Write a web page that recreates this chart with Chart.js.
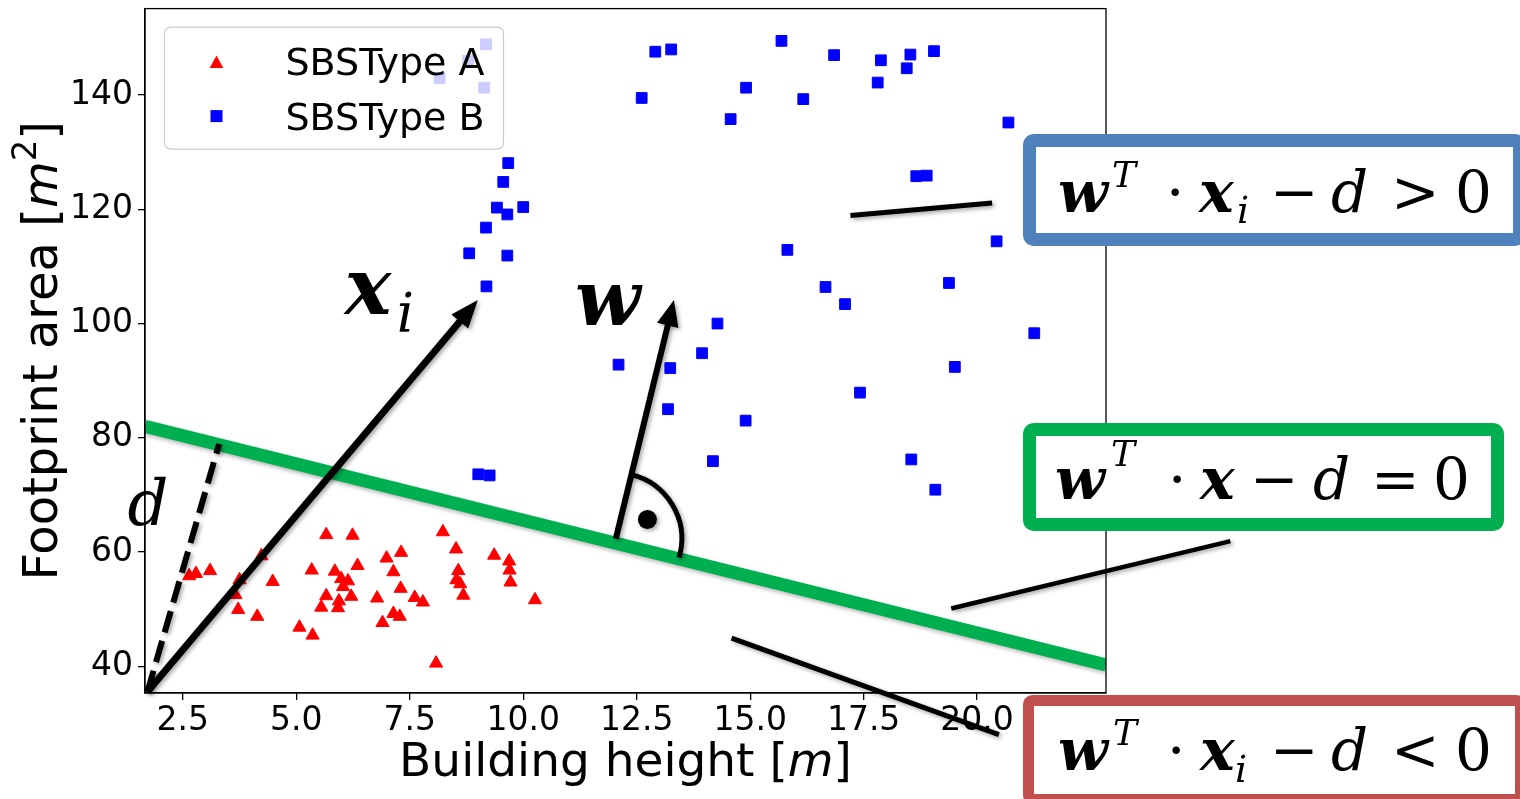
<!DOCTYPE html>
<html>
<head>
<meta charset="utf-8">
<script src="https://cdn.jsdelivr.net/npm/chart.js@4.4.0/dist/chart.umd.min.js"></script>
<style>
  html, body { margin: 0; padding: 0; background: #fff; }
  #wrap { position: relative; width: 1520px; height: 799px; }
</style>
</head>
<body>
<div id="wrap"><canvas id="myChart"></canvas></div>
<script>
// --- DATA (building height [m], footprint area [m^2]) ---
const typeAHeight = [2.64, 2.79, 3.10, 3.75, 3.66, 3.72, 4.14, 4.23, 4.48, 5.07, 5.36, 5.34, 5.66, 6.24, 6.35, 5.85,
  5.99, 6.14, 6.03, 6.21, 5.66, 5.55, 5.94, 5.92, 6.78, 6.90, 6.99, 7.31, 7.14, 7.30, 7.14, 7.28, 7.61, 7.79,
  8.23, 8.52, 8.57, 8.53, 8.61, 8.68, 9.36, 9.69, 9.70, 9.72, 10.26, 8.08];
const typeAArea = [55.8, 56.2, 56.7, 55.1, 52.5, 49.9, 48.7, 59.3, 54.8, 46.8, 45.4, 56.8, 63.0, 62.9, 57.6, 56.6,
  55.3, 54.9, 53.9, 52.2, 52.3, 50.3, 51.4, 50.2, 51.9, 47.6, 58.9, 59.9, 56.5, 53.6, 49.2, 48.7, 52.0, 51.2,
  63.5, 60.5, 56.7, 55.1, 54.4, 52.4, 59.4, 58.4, 56.8, 54.7, 51.6, 40.5];

const typeBHeight = [9.18, 8.79, 8.16, 9.14, 9.67, 9.56, 9.42, 9.65, 10.00, 9.18, 8.81, 9.65, 9.19, 12.91, 13.26,
  15.69, 16.85, 17.88, 18.53, 19.05, 18.45, 17.81, 12.61, 14.91, 16.17, 14.57, 20.69, 18.66, 18.89, 15.82, 20.43,
  16.66, 17.09, 19.38, 14.28, 13.94, 12.10, 13.24, 21.26, 19.51, 17.42, 13.19, 14.90, 14.18, 18.55, 19.08, 9.01, 9.26];
const typeBArea = [148.9, 146.0, 143.0, 141.3, 128.1, 124.8, 120.3, 119.1, 120.4, 116.8, 112.3, 111.9, 106.5, 147.6, 148.0,
  149.5, 147.0, 146.1, 147.1, 147.7, 144.7, 142.2, 139.5, 141.3, 139.3, 135.8, 135.2, 125.8, 125.9, 112.9, 114.4,
  106.4, 103.4, 107.1, 100.0, 94.8, 92.8, 92.2, 98.3, 92.4, 87.9, 85.0, 83.0, 75.9, 76.2, 70.9, 73.6, 73.4];

// separating hyperplane w^T x - d = 0
const boundaryHeight = [1.667, 22.84];
const boundaryArea = [82.0, 40.2];

const xTicks = [2.5, 5.0, 7.5, 10.0, 12.5, 15.0, 17.5, 20.0];
const yTicks = [40, 60, 80, 100, 120, 140];
const xRange = [1.667, 22.84];
const yRange = [35.3, 155.15];

// vectors drawn on top (data units)
const origin = [1.72, 35.5];
const xiTip = [9.0, 104.1];
const dTip = [3.30, 78.9];
const wFoot = [12.04, 62.3];
const wTip = [13.32, 104.1];
const leaders = [
  [17.21, 118.9, 20.33, 121.1],
  [19.43, 50.1, 25.58, 61.9],
  [14.59, 44.9, 20.48, 28.0]
];

// --- FONTS ---
const SANS = '"DejaVu Sans", sans-serif';
const SERIF = '"DejaVu Serif", "Liberation Serif", serif';
const BI = s => `italic bold ${s}px ${SERIF}`;
const IT = s => `italic ${s}px ${SERIF}`;
const RG = s => `${s}px ${SERIF}`;

// --- HELPERS ---
function arrow(ctx, x0, y0, x1, y1, lw, hl, hw) {
  const a = Math.atan2(y1 - y0, x1 - x0);
  const bx = x1 - hl * Math.cos(a), by = y1 - hl * Math.sin(a);
  ctx.lineWidth = lw;
  ctx.beginPath();
  ctx.moveTo(x0, y0);
  ctx.lineTo(bx + 3 * Math.cos(a), by + 3 * Math.sin(a));
  ctx.stroke();
  ctx.beginPath();
  ctx.moveTo(x1, y1);
  ctx.lineTo(bx + hw * Math.sin(a), by - hw * Math.cos(a));
  ctx.lineTo(bx - hw * Math.sin(a), by + hw * Math.cos(a));
  ctx.closePath();
  ctx.fill();
}

function roundRect(ctx, x, y, w, h, r) {
  ctx.beginPath();
  ctx.moveTo(x + r, y);
  ctx.lineTo(x + w - r, y); ctx.quadraticCurveTo(x + w, y, x + w, y + r);
  ctx.lineTo(x + w, y + h - r); ctx.quadraticCurveTo(x + w, y + h, x + w - r, y + h);
  ctx.lineTo(x + r, y + h); ctx.quadraticCurveTo(x, y + h, x, y + h - r);
  ctx.lineTo(x, y + r); ctx.quadraticCurveTo(x, y, x + r, y);
  ctx.closePath();
}

function drawRuns(ctx, x, y, runs) {
  runs.forEach(([t, font, dx, dy]) => {
    ctx.font = font;
    ctx.fillText(t, x + dx, y + (dy || 0));
  });
}

// flowing text: [text, font, dy]
function flowWidth(ctx, parts) {
  return parts.reduce((s, [t, f]) => { ctx.font = f; return s + ctx.measureText(t).width; }, 0);
}
function drawFlow(ctx, x, y, parts) {
  parts.forEach(([t, f, dy]) => {
    ctx.font = f;
    ctx.fillText(t, x, y + (dy || 0));
    x += ctx.measureText(t).width;
  });
}

// --- PLUGINS ---
const frameAndLegend = {
  id: 'frameAndLegend',
  beforeDatasetDraw(chart, args) {
    if (args.index === 2) {
      chart.ctx.save();
      chart.ctx.shadowColor = 'rgba(0,0,0,0.3)';
      chart.ctx.shadowBlur = 4;
      chart.ctx.shadowOffsetX = 1;
      chart.ctx.shadowOffsetY = 2;
    }
  },
  afterDatasetDraw(chart, args) {
    if (args.index === 2) chart.ctx.restore();
  },
  afterDatasetsDraw(chart) {
    const { ctx, chartArea: a } = chart;
    ctx.save();
    // axes box
    ctx.strokeStyle = '#000';
    ctx.lineWidth = 1.3;
    ctx.strokeRect(a.left, a.top, a.right - a.left, a.bottom - a.top);

    // legend (matplotlib style, inside upper left)
    const lx = a.left + 19.5, ly = a.top + 18.5, lw = 339, lh = 122;
    roundRect(ctx, lx, ly, lw, lh, 7);
    ctx.fillStyle = 'rgba(255,255,255,0.8)';
    ctx.fill();
    ctx.strokeStyle = '#cccccc';
    ctx.lineWidth = 1.2;
    ctx.stroke();

    const ds = chart.data.datasets;
    const mx = lx + 52;
    // triangle
    let my = ly + 36;
    ctx.fillStyle = ds[0].backgroundColor;
    ctx.beginPath();
    ctx.moveTo(mx, my - 7.5);
    ctx.lineTo(mx + 6.8, my + 5);
    ctx.lineTo(mx - 6.8, my + 5);
    ctx.closePath();
    ctx.fill();
    // square
    my = ly + 89;
    ctx.fillStyle = ds[1].backgroundColor;
    ctx.fillRect(mx - 6, my - 6, 12, 12);

    ctx.fillStyle = '#000';
    ctx.font = `38px ${SANS}`;
    ctx.textBaseline = 'alphabetic';
    ctx.fillText(ds[0].label, lx + 121, ly + 48);
    ctx.fillText(ds[1].label, lx + 121, ly + 103);
    ctx.restore();
  }
};

const annotations = {
  id: 'annotations',
  afterDraw(chart) {
    const { ctx, chartArea: a, scales: { x, y } } = chart;
    const P = (u, v) => [x.getPixelForValue(u), y.getPixelForValue(v)];
    ctx.save();

    // axis titles
    ctx.fillStyle = '#000';
    ctx.textBaseline = 'alphabetic';
    const xt = [['Building height [', `47px ${SANS}`], ['m', `italic 47px ${SANS}`], [']', `47px ${SANS}`]];
    drawFlow(ctx, (a.left + a.right) / 2 - flowWidth(ctx, xt) / 2, 776, xt);
    const yt = [['Footprint area [', `48px ${SANS}`], ['m', `italic 48px ${SANS}`],
                ['2', `34px ${SANS}`, -21], [']', `48px ${SANS}`]];
    ctx.save();
    ctx.translate(57, (a.top + a.bottom) / 2);
    ctx.rotate(-Math.PI / 2);
    drawFlow(ctx, -flowWidth(ctx, yt) / 2, 0, yt);
    ctx.restore();

    // shadowed black strokes
    ctx.shadowColor = 'rgba(0,0,0,0.35)';
    ctx.shadowBlur = 4;
    ctx.shadowOffsetX = 2;
    ctx.shadowOffsetY = 2;
    ctx.strokeStyle = '#000';
    ctx.fillStyle = '#000';
    ctx.lineCap = 'butt';

    const o = P(origin[0], origin[1]);
    // d (dashed)
    const dt = P(dTip[0], dTip[1]);
    ctx.setLineDash([22, 9]);
    ctx.lineWidth = 6;
    ctx.beginPath(); ctx.moveTo(o[0], o[1]); ctx.lineTo(dt[0], dt[1]); ctx.stroke();
    ctx.setLineDash([]);

    // x_i vector
    const xt2 = P(xiTip[0], xiTip[1]);
    arrow(ctx, o[0], o[1], xt2[0], xt2[1], 7, 28, 11);

    // w normal vector
    const wf = P(wFoot[0], wFoot[1]);
    const wt = P(wTip[0], wTip[1]);
    arrow(ctx, wf[0], wf[1], wt[0], wt[1], 6, 26, 11);

    // right angle mark
    const ang = Math.atan2(wt[1] - wf[1], wt[0] - wf[0]);
    ctx.lineWidth = 5;
    ctx.beginPath();
    ctx.arc(wf[0], wf[1], 66, ang, ang + Math.PI / 2 + 0.05);
    ctx.stroke();
    const mid = ang + Math.PI / 4;
    ctx.beginPath();
    ctx.arc(wf[0] + 37 * Math.cos(mid), wf[1] + 37 * Math.sin(mid), 9.5, 0, Math.PI * 2);
    ctx.fill();

    // leader lines
    leaders.forEach(([x0, y0, x1, y1], i) => {
      const p0 = P(x0, y0), p1 = P(x1, y1);
      ctx.lineWidth = i === 1 ? 4.5 : 5;
      ctx.beginPath(); ctx.moveTo(p0[0], p0[1]); ctx.lineTo(p1[0], p1[1]); ctx.stroke();
    });

    ctx.shadowColor = 'transparent';

    // vector labels
    const lx = P(6.07, 101.6);
    drawRuns(ctx, lx[0], lx[1], [['x', BI(78), 0, 0], ['i', IT(54), 52, 18]]);
    const lw = P(11.14, 99.7);
    drawRuns(ctx, lw[0], lw[1], [['w', BI(76), 0, 0]]);
    const ld = P(1.28, 64.7);
    drawRuns(ctx, ld[0], ld[1], [['d', IT(64), 0, 0]]);

    // equation boxes
    const boxes = [
      { x: 1029.5, y: 140.5, w: 490, h: 99, lw: 13, color: '#4f81bd', tx: 1058, ty: 212,
        runs: [['w', BI(58), 0, 0], ['T', IT(36), 54, -25], ['·', RG(58), 108, 0], ['x', BI(58), 141, 0],
               ['i', IT(38), 179, 11], ['−', RG(58), 212, 0], ['d', IT(58), 273, 0], ['>', RG(58), 333, 0], ['0', RG(58), 397, 0]] },
      { x: 1029.5, y: 429.5, w: 468, h: 95, lw: 13, color: '#00b050', tx: 1055, ty: 499,
        runs: [['w', BI(58), 0, 0], ['T', IT(36), 56, -33], ['·', RG(58), 113, 0], ['x', BI(58), 145, 0],
               ['−', RG(58), 195, 0], ['d', IT(58), 258, 0], ['=', RG(58), 316, 0], ['0', RG(58), 378, 0]] },
      { x: 1028.5, y: 700.5, w: 492, h: 99, lw: 11, color: '#c0504d', tx: 1058, ty: 770,
        runs: [['w', BI(58), 0, 0], ['T', IT(36), 55, -25], ['·', RG(58), 109, 0], ['x', BI(58), 142, 0],
               ['i', IT(38), 177, 12], ['−', RG(58), 212, 0], ['d', IT(58), 273, 0], ['<', RG(58), 333, 0], ['0', RG(58), 397, 0]] }
    ];
    boxes.forEach(b => {
      roundRect(ctx, b.x, b.y, b.w, b.h, 5);
      ctx.fillStyle = '#fff';
      ctx.fill();
      ctx.lineWidth = b.lw;
      ctx.strokeStyle = b.color;
      ctx.stroke();
      ctx.fillStyle = '#000';
      drawRuns(ctx, b.tx, b.ty, b.runs);
    });

    ctx.restore();
  }
};

// --- CHART INITIALIZATION ---
const ctx = document.getElementById('myChart').getContext('2d');
const myChart = new Chart(ctx, {
  type: 'scatter',
  data: {
    datasets: [
      {
        label: 'SBSType A',
        data: typeAHeight.map((h, i) => ({ x: h, y: typeAArea[i] })),
        pointStyle: 'triangle',
        pointRadius: 7.6,
        backgroundColor: '#ff0000',
        borderColor: '#ff0000',
        borderWidth: 1
      },
      {
        label: 'SBSType B',
        data: typeBHeight.map((h, i) => ({ x: h, y: typeBArea[i] })),
        pointStyle: 'rect',
        pointRadius: 7.6,
        backgroundColor: '#0000ff',
        borderColor: '#0000ff',
        borderWidth: 1
      },
      {
        label: 'boundary',
        data: boundaryHeight.map((h, i) => ({ x: h, y: boundaryArea[i] })),
        showLine: true,
        borderColor: '#00b050',
        borderWidth: 13,
        pointRadius: 0,
        clip: 0
      }
    ]
  },
  options: {
    responsive: true,
    maintainAspectRatio: false,
    animation: false,
    events: [],
    layout: { padding: { left: 0, top: 5, right: 414, bottom: 0 } },
    plugins: {
      legend: { display: false },
      tooltip: { enabled: false }
    },
    scales: {
      x: {
        type: 'linear',
        min: xRange[0],
        max: xRange[1],
        afterBuildTicks: s => { s.ticks = xTicks.map(v => ({ value: v })); },
        afterFit: s => { s.height = 106; s.paddingLeft = 0; s.paddingRight = 0; },
        ticks: {
          font: { family: 'DejaVu Sans', size: 33 },
          color: '#000',
          padding: 2,
          maxRotation: 0,
          autoSkip: false,
          callback: v => Number(v).toFixed(1)
        },
        grid: { display: true, drawOnChartArea: false, drawTicks: true, tickLength: 7, color: '#000', lineWidth: 1.3 },
        border: { display: true, color: '#000', width: 1.3 },
        title: { display: false }
      },
      y: {
        type: 'linear',
        min: yRange[0],
        max: yRange[1],
        afterBuildTicks: s => { s.ticks = yTicks.map(v => ({ value: v })); },
        afterFit: s => { s.width = 145; s.paddingTop = 0; s.paddingBottom = 0; },
        ticks: {
          font: { family: 'DejaVu Sans', size: 33 },
          color: '#000',
          padding: 5,
          autoSkip: false,
          callback: v => String(v)
        },
        grid: { display: true, drawOnChartArea: false, drawTicks: true, tickLength: 7, color: '#000', lineWidth: 1.3 },
        border: { display: true, color: '#000', width: 1.3 },
        title: { display: false }
      }
    }
  },
  plugins: [frameAndLegend, annotations]
});
</script>
</body>
</html>
